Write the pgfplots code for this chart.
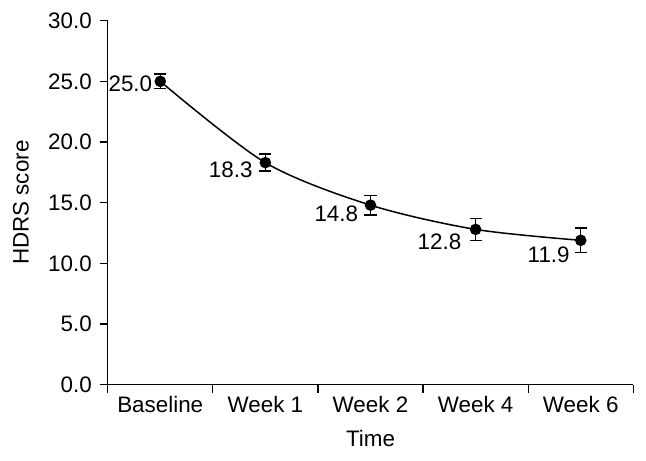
\documentclass[border=0pt]{standalone}
\usepackage{pgfplots}
\pgfplotsset{compat=1.18}
\usepackage{fontspec}
\setmainfont{Liberation Sans}
\newcommand{\lblfont}{\fontsize{11.2}{13.5}\selectfont}
\begin{document}
\lblfont
\begin{tikzpicture}
\path[use as bounding box] (-53.85pt,-37.65pt) rectangle (269.15pt,192.35pt);
\begin{axis}[
  at={(0pt,0pt)}, anchor=south west,
  scale only axis, width=262.8pt, height=182pt,
  xmin=0, xmax=5, ymin=0, ymax=30,
  axis x line*=bottom, axis y line*=left,
  axis line style={-, line width=0.6pt, black},
  xtick={0,1,2,3,4,5}, xticklabels={},
  extra x ticks={0.5,1.5,2.5,3.5,4.5},
  extra x tick labels={Baseline,Week 1,Week 2,Week 4,Week 6},
  extra x tick style={major tick length=0pt, tick label style={yshift=-2pt}},
  ytick={0,5,10,15,20,25,30},
  tick align=outside, major tick length=4pt,
  tick style={line width=0.6pt, black},
  every tick label/.append style={font=\lblfont},
  yticklabel style={/pgf/number format/.cd, fixed, fixed zerofill, precision=1},
  /pgf/number format/assume math mode=true,
  xlabel={Time}, ylabel={HDRS score},
  label style={font=\lblfont},
  every axis x label/.style={at={(axis description cs:0.5,-0.149)}, anchor=center},
  every axis y label/.style={at={(axis description cs:-0.165,0.5)}, anchor=center, rotate=90},
  clip=false,
]
\addplot[black, line width=0.75pt, smooth, mark=*, mark size=2.5pt,
  error bars/.cd, y dir=both, y explicit,
  error bar style={line width=0.75pt, black},
  error mark options={rotate=90, mark size=3pt, line width=0.75pt, black}]
coordinates {
  (0.5,25.0) +- (0,0.6)
  (1.5,18.3) +- (0,0.7)
  (2.5,14.8) +- (0,0.8)
  (3.5,12.8) +- (0,0.9)
  (4.5,11.9) +- (0,1.0)
};
\node[anchor=east, inner sep=0pt, font=\lblfont, xshift=-3.85pt, yshift=-1.3pt] at (axis cs:0.5,25.0) {25.0};
\node[anchor=east, inner sep=0pt, font=\lblfont, xshift=-6.2pt, yshift=-3.65pt] at (axis cs:1.5,18.3) {18.3};
\node[anchor=east, inner sep=0pt, font=\lblfont, xshift=-6pt, yshift=-4.15pt] at (axis cs:2.5,14.8) {14.8};
\node[anchor=east, inner sep=0pt, font=\lblfont, xshift=-7pt, yshift=-6.35pt] at (axis cs:3.5,12.8) {12.8};
\node[anchor=east, inner sep=0pt, font=\lblfont, xshift=-5.35pt, yshift=-7.15pt] at (axis cs:4.5,11.9) {11.9};
\end{axis}
\end{tikzpicture}
\end{document}
